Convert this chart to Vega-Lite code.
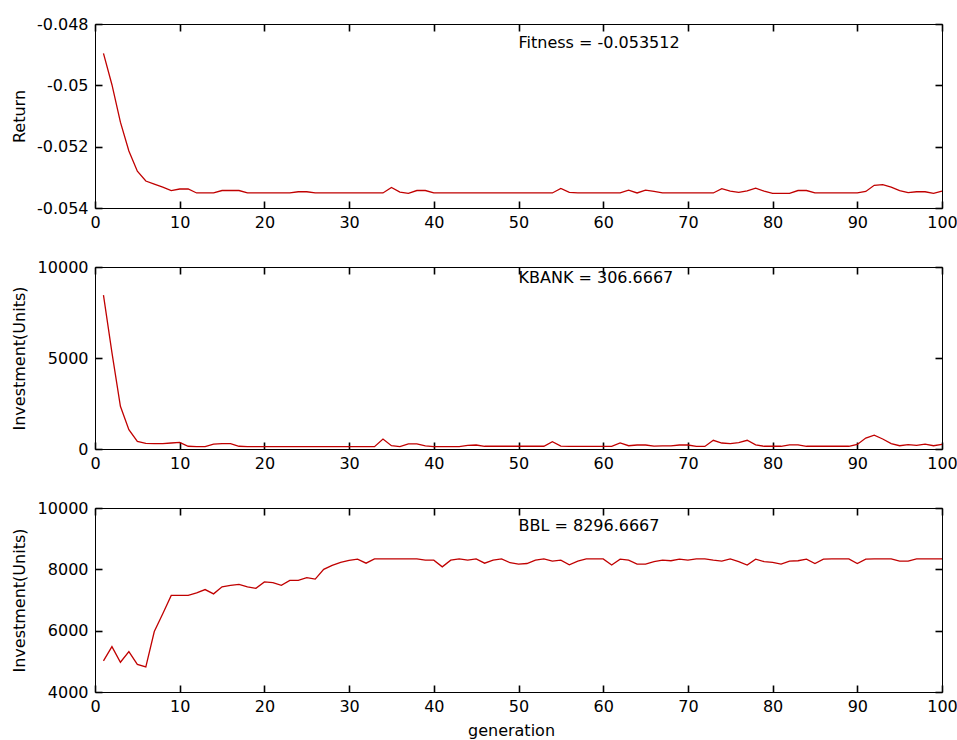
{
"$schema": "https://vega.github.io/schema/vega-lite/v6.json",
"background": "white",
"padding": {"left": 10, "top": 15, "right": 5, "bottom": 5},
"spacing": 59,
"bounds": "flush",
"datasets": {
"ga": [
{"g":1,"ret":-0.04896,"kbank":8450,"bbl":5016},
{"g":2,"ret":-0.04998,"kbank":5300,"bbl":5480},
{"g":3,"ret":-0.05120,"kbank":2350,"bbl":4970},
{"g":4,"ret":-0.05214,"kbank":1060,"bbl":5320},
{"g":5,"ret":-0.05280,"kbank":420,"bbl":4900},
{"g":6,"ret":-0.05312,"kbank":310,"bbl":4820},
{"g":7,"ret":-0.05322,"kbank":300,"bbl":5970},
{"g":8,"ret":-0.05332,"kbank":300,"bbl":6550},
{"g":9,"ret":-0.05343,"kbank":330,"bbl":7150},
{"g":10,"ret":-0.05338,"kbank":360,"bbl":7150},
{"g":11,"ret":-0.05338,"kbank":150,"bbl":7150},
{"g":12,"ret":-0.05351,"kbank":130,"bbl":7230},
{"g":13,"ret":-0.05351,"kbank":130,"bbl":7340},
{"g":14,"ret":-0.05351,"kbank":270,"bbl":7200},
{"g":15,"ret":-0.05343,"kbank":300,"bbl":7430},
{"g":16,"ret":-0.05343,"kbank":290,"bbl":7480},
{"g":17,"ret":-0.05343,"kbank":150,"bbl":7510},
{"g":18,"ret":-0.05351,"kbank":130,"bbl":7430},
{"g":19,"ret":-0.05351,"kbank":130,"bbl":7380},
{"g":20,"ret":-0.05351,"kbank":130,"bbl":7590},
{"g":21,"ret":-0.05351,"kbank":130,"bbl":7570},
{"g":22,"ret":-0.05351,"kbank":130,"bbl":7480},
{"g":23,"ret":-0.05351,"kbank":130,"bbl":7640},
{"g":24,"ret":-0.05347,"kbank":130,"bbl":7640},
{"g":25,"ret":-0.05347,"kbank":130,"bbl":7730},
{"g":26,"ret":-0.05351,"kbank":130,"bbl":7680},
{"g":27,"ret":-0.05351,"kbank":130,"bbl":8000},
{"g":28,"ret":-0.05351,"kbank":130,"bbl":8130},
{"g":29,"ret":-0.05351,"kbank":130,"bbl":8230},
{"g":30,"ret":-0.05351,"kbank":130,"bbl":8290},
{"g":31,"ret":-0.05351,"kbank":130,"bbl":8330},
{"g":32,"ret":-0.05351,"kbank":130,"bbl":8200},
{"g":33,"ret":-0.05351,"kbank":130,"bbl":8340},
{"g":34,"ret":-0.05351,"kbank":550,"bbl":8340},
{"g":35,"ret":-0.05333,"kbank":180,"bbl":8340},
{"g":36,"ret":-0.05348,"kbank":130,"bbl":8340},
{"g":37,"ret":-0.05352,"kbank":280,"bbl":8340},
{"g":38,"ret":-0.05343,"kbank":280,"bbl":8340},
{"g":39,"ret":-0.05343,"kbank":170,"bbl":8300},
{"g":40,"ret":-0.05351,"kbank":130,"bbl":8300},
{"g":41,"ret":-0.05351,"kbank":130,"bbl":8080},
{"g":42,"ret":-0.05351,"kbank":130,"bbl":8300},
{"g":43,"ret":-0.05351,"kbank":130,"bbl":8340},
{"g":44,"ret":-0.05351,"kbank":200,"bbl":8300},
{"g":45,"ret":-0.05351,"kbank":220,"bbl":8340},
{"g":46,"ret":-0.05351,"kbank":150,"bbl":8200},
{"g":47,"ret":-0.05351,"kbank":150,"bbl":8300},
{"g":48,"ret":-0.05351,"kbank":150,"bbl":8340},
{"g":49,"ret":-0.05351,"kbank":150,"bbl":8215},
{"g":50,"ret":-0.05351,"kbank":150,"bbl":8170},
{"g":51,"ret":-0.05351,"kbank":150,"bbl":8190},
{"g":52,"ret":-0.05351,"kbank":150,"bbl":8300},
{"g":53,"ret":-0.05351,"kbank":150,"bbl":8340},
{"g":54,"ret":-0.05351,"kbank":400,"bbl":8270},
{"g":55,"ret":-0.05336,"kbank":160,"bbl":8300},
{"g":56,"ret":-0.05349,"kbank":140,"bbl":8150},
{"g":57,"ret":-0.05351,"kbank":140,"bbl":8270},
{"g":58,"ret":-0.05351,"kbank":140,"bbl":8340},
{"g":59,"ret":-0.05351,"kbank":140,"bbl":8340},
{"g":60,"ret":-0.05351,"kbank":140,"bbl":8340},
{"g":61,"ret":-0.05351,"kbank":140,"bbl":8140},
{"g":62,"ret":-0.05351,"kbank":330,"bbl":8330},
{"g":63,"ret":-0.05342,"kbank":180,"bbl":8300},
{"g":64,"ret":-0.05351,"kbank":220,"bbl":8170},
{"g":65,"ret":-0.05342,"kbank":220,"bbl":8170},
{"g":66,"ret":-0.05346,"kbank":160,"bbl":8250},
{"g":67,"ret":-0.05351,"kbank":170,"bbl":8300},
{"g":68,"ret":-0.05351,"kbank":170,"bbl":8280},
{"g":69,"ret":-0.05351,"kbank":220,"bbl":8330},
{"g":70,"ret":-0.05351,"kbank":220,"bbl":8300},
{"g":71,"ret":-0.05351,"kbank":140,"bbl":8340},
{"g":72,"ret":-0.05351,"kbank":140,"bbl":8340},
{"g":73,"ret":-0.05351,"kbank":480,"bbl":8300},
{"g":74,"ret":-0.05337,"kbank":330,"bbl":8270},
{"g":75,"ret":-0.05345,"kbank":300,"bbl":8340},
{"g":76,"ret":-0.05349,"kbank":350,"bbl":8250},
{"g":77,"ret":-0.05344,"kbank":480,"bbl":8140},
{"g":78,"ret":-0.05335,"kbank":230,"bbl":8330},
{"g":79,"ret":-0.05345,"kbank":150,"bbl":8250},
{"g":80,"ret":-0.05352,"kbank":150,"bbl":8225},
{"g":81,"ret":-0.05352,"kbank":150,"bbl":8170},
{"g":82,"ret":-0.05352,"kbank":230,"bbl":8270},
{"g":83,"ret":-0.05343,"kbank":230,"bbl":8280},
{"g":84,"ret":-0.05343,"kbank":150,"bbl":8330},
{"g":85,"ret":-0.05351,"kbank":150,"bbl":8190},
{"g":86,"ret":-0.05351,"kbank":150,"bbl":8330},
{"g":87,"ret":-0.05351,"kbank":150,"bbl":8340},
{"g":88,"ret":-0.05351,"kbank":150,"bbl":8340},
{"g":89,"ret":-0.05351,"kbank":150,"bbl":8340},
{"g":90,"ret":-0.05351,"kbank":250,"bbl":8190},
{"g":91,"ret":-0.05346,"kbank":600,"bbl":8330},
{"g":92,"ret":-0.05326,"kbank":760,"bbl":8340},
{"g":93,"ret":-0.05324,"kbank":550,"bbl":8340},
{"g":94,"ret":-0.05332,"kbank":300,"bbl":8340},
{"g":95,"ret":-0.05343,"kbank":180,"bbl":8270},
{"g":96,"ret":-0.05350,"kbank":240,"bbl":8270},
{"g":97,"ret":-0.05347,"kbank":200,"bbl":8340},
{"g":98,"ret":-0.05347,"kbank":270,"bbl":8340},
{"g":99,"ret":-0.05352,"kbank":180,"bbl":8340},
{"g":100,"ret":-0.05345,"kbank":250,"bbl":8340}
]
},
"vconcat": [
{
"width": 847, "height": 184,
"data": {"name": "ga"},
"layer": [
{"mark": {"type": "line", "color": "#c00000", "strokeWidth": 1.3},
"encoding": {
"x": {"field": "g", "type": "quantitative", "scale": {"domain": [0, 100], "nice": false, "zero": false},
"axis": {"values": [0,10,20,30,40,50,60,70,80,90,100], "title": null}},
"y": {"field": "ret", "type": "quantitative", "scale": {"domain": [-0.054, -0.048], "nice": false, "zero": false},
"axis": {"values": [-0.054,-0.052,-0.05,-0.048], "title": "Return", "titleX": -71, "titleBaseline": "alphabetic", "labelExpr": "toString(datum.value)"}}
}},
{"data": {"values": [{"note": "Fitness = -0.053512"}]},
"mark": {"type": "text", "align": "left", "baseline": "middle", "fontSize": 16, "font": "DejaVu Sans", "color": "black"},
"encoding": {
"x": {"datum": 50, "type": "quantitative", "scale": {"domain": [0, 100], "nice": false, "zero": false},
"axis": {"orient": "top", "values": [0,10,20,30,40,50,60,70,80,90,100], "labels": false, "title": null}},
"y": {"datum": -0.04862, "type": "quantitative", "scale": {"domain": [-0.054, -0.048], "nice": false, "zero": false},
"axis": {"orient": "right", "values": [-0.054,-0.052,-0.05,-0.048], "labels": false, "title": null}},
"text": {"field": "note"}
}}
],
"resolve": {"axis": {"x": "independent", "y": "independent"}}
},
{
"width": 847, "height": 182,
"data": {"name": "ga"},
"layer": [
{"mark": {"type": "line", "color": "#c00000", "strokeWidth": 1.3},
"encoding": {
"x": {"field": "g", "type": "quantitative", "scale": {"domain": [0, 100], "nice": false, "zero": false},
"axis": {"values": [0,10,20,30,40,50,60,70,80,90,100], "title": null}},
"y": {"field": "kbank", "type": "quantitative", "scale": {"domain": [0, 10000], "nice": false},
"axis": {"values": [0,5000,10000], "title": "Investment(Units)", "titleX": -71, "titleBaseline": "alphabetic", "labelExpr": "toString(datum.value)"}}
}},
{"data": {"values": [{"note": "KBANK = 306.6667"}]},
"mark": {"type": "text", "align": "left", "baseline": "middle", "fontSize": 16, "font": "DejaVu Sans", "color": "black"},
"encoding": {
"x": {"datum": 50, "type": "quantitative", "scale": {"domain": [0, 100], "nice": false, "zero": false},
"axis": {"orient": "top", "values": [0,10,20,30,40,50,60,70,80,90,100], "labels": false, "title": null}},
"y": {"datum": 9400, "type": "quantitative", "scale": {"domain": [0, 10000], "nice": false},
"axis": {"orient": "right", "values": [0,5000,10000], "labels": false, "title": null}},
"text": {"field": "note"}
}}
],
"resolve": {"axis": {"x": "independent", "y": "independent"}}
},
{
"width": 847, "height": 184,
"data": {"name": "ga"},
"layer": [
{"mark": {"type": "line", "color": "#c00000", "strokeWidth": 1.3},
"encoding": {
"x": {"field": "g", "type": "quantitative", "scale": {"domain": [0, 100], "nice": false, "zero": false},
"axis": {"values": [0,10,20,30,40,50,60,70,80,90,100], "title": "generation", "titleX": 416, "titleY": 43, "titleBaseline": "alphabetic", "titleAlign": "center"}},
"y": {"field": "bbl", "type": "quantitative", "scale": {"domain": [4000, 10000], "nice": false, "zero": false},
"axis": {"values": [4000,6000,8000,10000], "title": "Investment(Units)", "titleX": -71, "titleBaseline": "alphabetic", "labelExpr": "toString(datum.value)"}}
}},
{"data": {"values": [{"note": "BBL = 8296.6667"}]},
"mark": {"type": "text", "align": "left", "baseline": "middle", "fontSize": 16, "font": "DejaVu Sans", "color": "black"},
"encoding": {
"x": {"datum": 50, "type": "quantitative", "scale": {"domain": [0, 100], "nice": false, "zero": false},
"axis": {"orient": "top", "values": [0,10,20,30,40,50,60,70,80,90,100], "labels": false, "title": null}},
"y": {"datum": 9410, "type": "quantitative", "scale": {"domain": [4000, 10000], "nice": false, "zero": false},
"axis": {"orient": "right", "values": [4000,6000,8000,10000], "labels": false, "title": null}},
"text": {"field": "note"}
}}
],
"resolve": {"axis": {"x": "independent", "y": "independent"}}
}
],
"config": {
"font": "DejaVu Sans",
"view": {"stroke": "black", "strokeWidth": 1},
"axis": {
"labelFont": "DejaVu Sans", "labelFontSize": 16, "labelColor": "black",
"titleFont": "DejaVu Sans", "titleFontSize": 16, "titleFontWeight": "normal", "titleColor": "black",
"domain": false, "grid": false, "labelFlush": false, "labelOverlap": false, "zindex": 1,
"ticks": true, "tickSize": -7, "tickColor": "black", "tickOpacity": 1, "tickWidth": 1.6
},
"axisY": {"labelPadding": 14},
"axisX": {"labelPadding": 13}
}
}
